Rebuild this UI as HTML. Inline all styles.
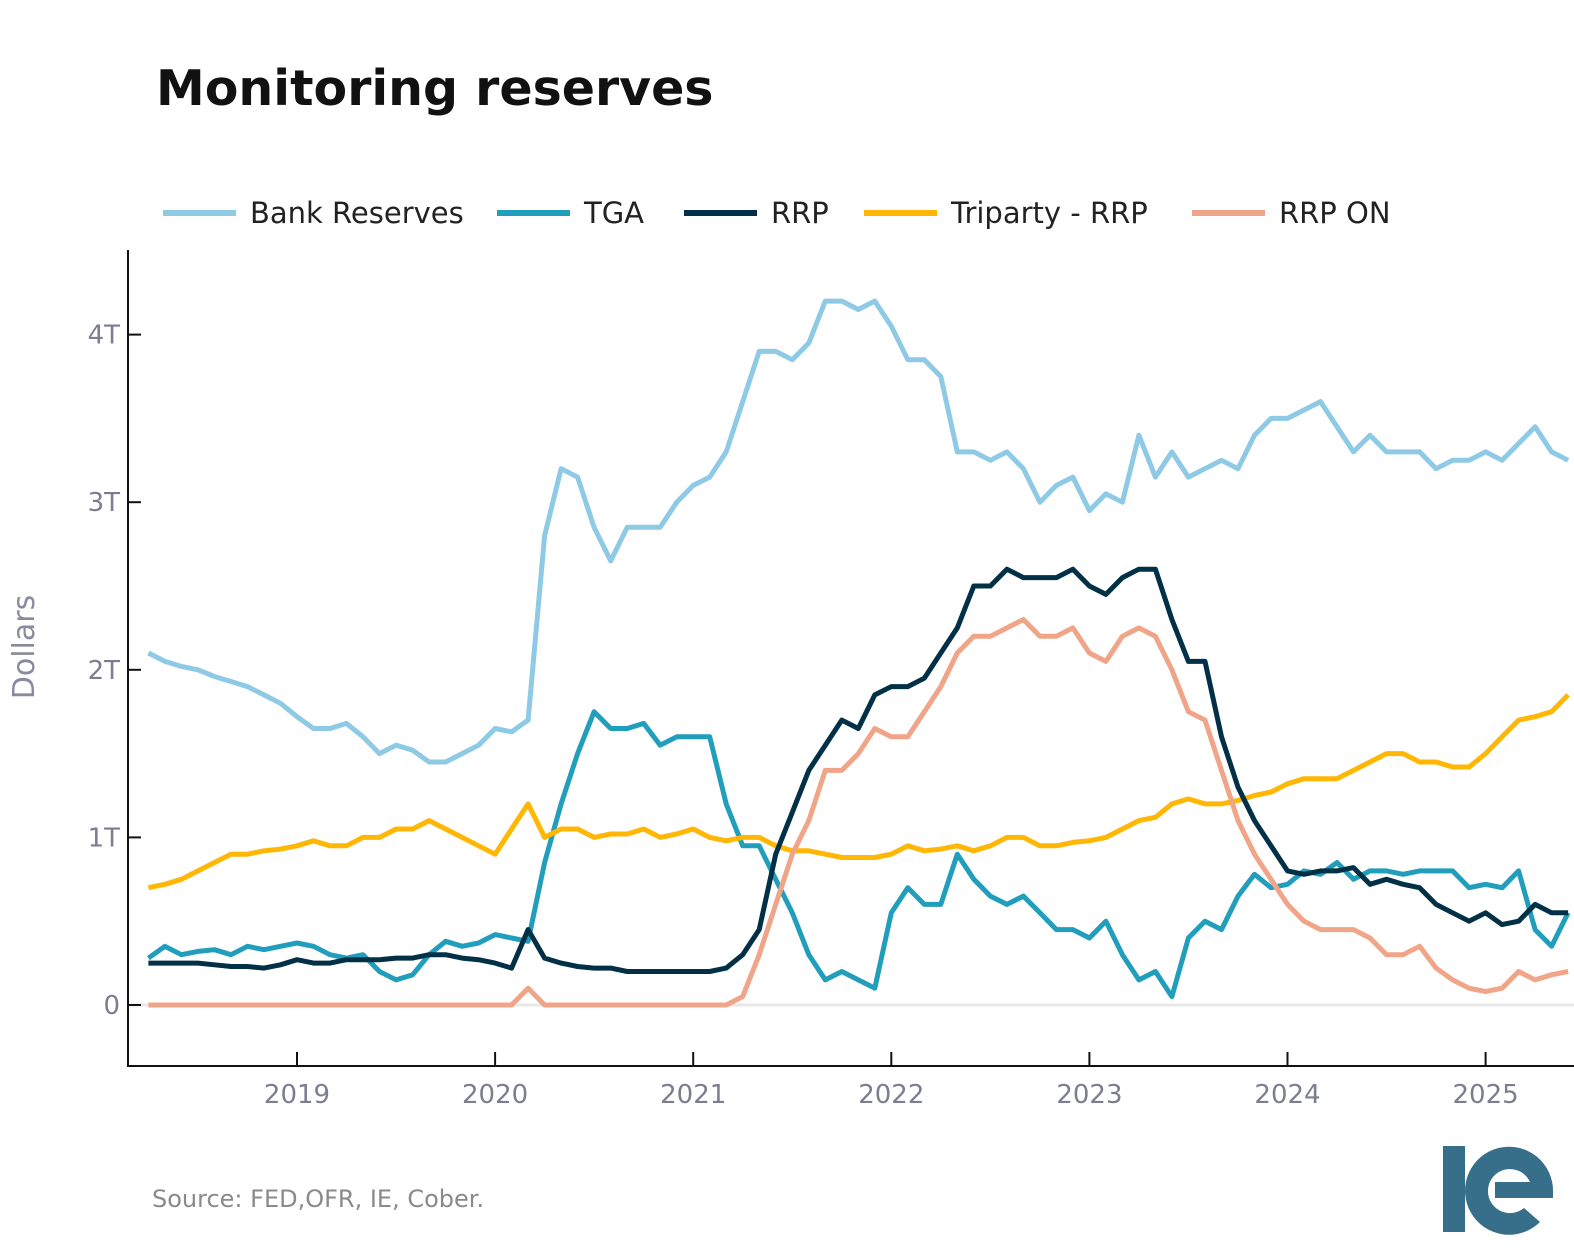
<!DOCTYPE html>
<html><head><meta charset="utf-8"><style>
body{margin:0;background:#fff;}
svg text{font-family:"DejaVu Sans","Liberation Sans",sans-serif;}
</style></head><body>
<svg id="chart" width="1574" height="1250" viewBox="0 0 1574 1250" xmlns="http://www.w3.org/2000/svg">
<text x="156" y="105" font-size="49" font-weight="bold" fill="#111">Monitoring reserves</text>
<g id="legend"></g>
<defs><clipPath id="plotclip"><rect x="129" y="240" width="1445" height="825"/></clipPath></defs>
<line x1="129" y1="1005" x2="1574" y2="1005" stroke="#e8e8e8" stroke-width="3"/>
<g id="series" clip-path="url(#plotclip)"></g>
<line x1="128" y1="250" x2="128" y2="1067" stroke="#111" stroke-width="2"/>
<line x1="127" y1="1066" x2="1574" y2="1066" stroke="#111" stroke-width="2"/>
<g id="axes"></g>
<text transform="translate(34,647) rotate(-90)" text-anchor="middle" font-size="30" fill="#8a8a9e">Dollars</text>
<text x="152" y="1207" font-size="24" fill="#8a8a8a">Source: FED,OFR, IE, Cober.</text>
<g>
<rect x="1443" y="1146" width="22" height="86" fill="#376f8a"/>
<path d="M1553,1192 A44,44 0 1,0 1540,1222 L1524,1208 A22,22 0 1,1 1530,1182 L1495,1182 L1495,1198 L1553,1198 Z" fill="#376f8a"/>
</g>
</svg>
<script>
const startYear = 2018.25;
const bankReserves = [2.1,2.05,2.02,2.0,1.96,1.93,1.9,1.85,1.8,
1.72,1.65,1.65,1.68,1.6,1.5,1.55,1.52,1.45,1.45,1.5,1.55,
1.65,1.63,1.7,2.8,3.2,3.15,2.85,2.65,2.85,2.85,2.85,3.0,
3.1,3.15,3.3,3.6,3.9,3.9,3.85,3.95,4.2,4.2,4.15,4.2,
4.05,3.85,3.85,3.75,3.3,3.3,3.25,3.3,3.2,3.0,3.1,3.15,
2.95,3.05,3.0,3.4,3.15,3.3,3.15,3.2,3.25,3.2,3.4,3.5,
3.5,3.55,3.6,3.45,3.3,3.4,3.3,3.3,3.3,3.2,3.25,3.25,
3.3,3.25,3.35,3.45,3.3,3.25];
const tga = [0.28,0.35,0.3,0.32,0.33,0.3,0.35,0.33,0.35,
0.37,0.35,0.3,0.28,0.3,0.2,0.15,0.18,0.3,0.38,0.35,0.37,
0.42,0.4,0.38,0.85,1.2,1.5,1.75,1.65,1.65,1.68,1.55,1.6,
1.6,1.6,1.2,0.95,0.95,0.75,0.55,0.3,0.15,0.2,0.15,0.1,
0.55,0.7,0.6,0.6,0.9,0.75,0.65,0.6,0.65,0.55,0.45,0.45,
0.4,0.5,0.3,0.15,0.2,0.05,0.4,0.5,0.45,0.65,0.78,0.7,
0.72,0.8,0.78,0.85,0.75,0.8,0.8,0.78,0.8,0.8,0.8,0.7,
0.72,0.7,0.8,0.45,0.35,0.55];
const rrp = [0.25,0.25,0.25,0.25,0.24,0.23,0.23,0.22,0.24,
0.27,0.25,0.25,0.27,0.27,0.27,0.28,0.28,0.3,0.3,0.28,0.27,
0.25,0.22,0.45,0.28,0.25,0.23,0.22,0.22,0.2,0.2,0.2,0.2,
0.2,0.2,0.22,0.3,0.45,0.9,1.15,1.4,1.55,1.7,1.65,1.85,
1.9,1.9,1.95,2.1,2.25,2.5,2.5,2.6,2.55,2.55,2.55,2.6,
2.5,2.45,2.55,2.6,2.6,2.3,2.05,2.05,1.6,1.3,1.1,0.95,
0.8,0.78,0.8,0.8,0.82,0.72,0.75,0.72,0.7,0.6,0.55,0.5,
0.55,0.48,0.5,0.6,0.55,0.55];
const triparty = [0.7,0.72,0.75,0.8,0.85,0.9,0.9,0.92,0.93,
0.95,0.98,0.95,0.95,1.0,1.0,1.05,1.05,1.1,1.05,1.0,0.95,
0.9,1.05,1.2,1.0,1.05,1.05,1.0,1.02,1.02,1.05,1.0,1.02,
1.05,1.0,0.98,1.0,1.0,0.95,0.92,0.92,0.9,0.88,0.88,0.88,
0.9,0.95,0.92,0.93,0.95,0.92,0.95,1.0,1.0,0.95,0.95,0.97,
0.98,1.0,1.05,1.1,1.12,1.2,1.23,1.2,1.2,1.22,1.25,1.27,
1.32,1.35,1.35,1.35,1.4,1.45,1.5,1.5,1.45,1.45,1.42,1.42,
1.5,1.6,1.7,1.72,1.75,1.85];
const rrpOn = [0,0,0,0,0,0,0,0,0,
0,0,0,0,0,0,0,0,0,0,0,0,
0,0,0.1,0,0,0,0,0,0,0,0,0,
0,0,0,0.05,0.3,0.6,0.9,1.1,1.4,1.4,1.5,1.65,
1.6,1.6,1.75,1.9,2.1,2.2,2.2,2.25,2.3,2.2,2.2,2.25,
2.1,2.05,2.2,2.25,2.2,2.0,1.75,1.7,1.4,1.1,0.9,0.75,
0.6,0.5,0.45,0.45,0.45,0.4,0.3,0.3,0.35,0.22,0.15,0.1,
0.08,0.1,0.2,0.15,0.18,0.2];
const seriesNames = ["Bank Reserves","TGA","RRP","Triparty - RRP","RRP ON"];
const yTickValues = [0,1,2,3,4];
const yTickLabels = ["0","1T","2T","3T","4T"];
const xTickYears = [2019,2020,2021,2022,2023,2024,2025];

const NS="http://www.w3.org/2000/svg";
function xScale(yr){return 297+(yr-2019)*198.1;}
function yScale(v){return 1005-v*167.6;}
const colors=["#8ecae6","#219ebc","#023047","#ffb703","#f0a488"];
const data=[bankReserves,tga,rrp,triparty,rrpOn];
const sg=document.getElementById("series");
const drawOrder=[0,1,3,4,2];
drawOrder.forEach(i=>{
  const arr=data[i];
  const pts=arr.map((v,k)=>xScale(startYear+k/12).toFixed(1)+","+yScale(v).toFixed(1)).join(" ");
  const pl=document.createElementNS(NS,"polyline");
  pl.setAttribute("points",pts);
  pl.setAttribute("fill","none");
  pl.setAttribute("stroke",colors[i]);
  pl.setAttribute("stroke-width","5");
  pl.setAttribute("stroke-linejoin","round");
  
  
  sg.appendChild(pl);
});
const ax=document.getElementById("axes");
yTickValues.forEach((v,i)=>{
  const y=yScale(v);
  const l=document.createElementNS(NS,"line");
  l.setAttribute("x1",128);l.setAttribute("x2",141);l.setAttribute("y1",y);l.setAttribute("y2",y);
  l.setAttribute("stroke","#111");l.setAttribute("stroke-width","2");
  
  
  ax.appendChild(l);
  const t=document.createElementNS(NS,"text");
  t.setAttribute("x",120);t.setAttribute("y",y+9);t.setAttribute("text-anchor","end");
  t.setAttribute("font-size","26");t.setAttribute("fill","#7d7d90");
  t.textContent=yTickLabels[i];
  
  
  ax.appendChild(t);
});
xTickYears.forEach(yr=>{
  const x=xScale(yr);
  const l=document.createElementNS(NS,"line");
  l.setAttribute("x1",x);l.setAttribute("x2",x);l.setAttribute("y1",1052);l.setAttribute("y2",1066);
  l.setAttribute("stroke","#111");l.setAttribute("stroke-width","2");
  
  
  ax.appendChild(l);
  const t=document.createElementNS(NS,"text");
  t.setAttribute("x",x);t.setAttribute("y",1103);t.setAttribute("text-anchor","middle");
  t.setAttribute("font-size","26");t.setAttribute("fill","#7d7d90");
  t.textContent=String(yr);
  
  
  ax.appendChild(t);
});
const lg=document.getElementById("legend");
const lgX=[163,497,684,864,1192];
seriesNames.forEach((n,i)=>{
  const g=document.createElementNS(NS,"g");
  
  
  const l=document.createElementNS(NS,"line");
  l.setAttribute("x1",lgX[i]);l.setAttribute("x2",lgX[i]+73);l.setAttribute("y1",213);l.setAttribute("y2",213);
  l.setAttribute("stroke",colors[i]);l.setAttribute("stroke-width","6");
  g.appendChild(l);
  const t=document.createElementNS(NS,"text");
  t.setAttribute("x",lgX[i]+87);t.setAttribute("y",223);t.setAttribute("font-size","29");t.setAttribute("fill","#222");
  t.textContent=n;
  g.appendChild(t);
  lg.appendChild(g);
});
</script>
</body></html>
